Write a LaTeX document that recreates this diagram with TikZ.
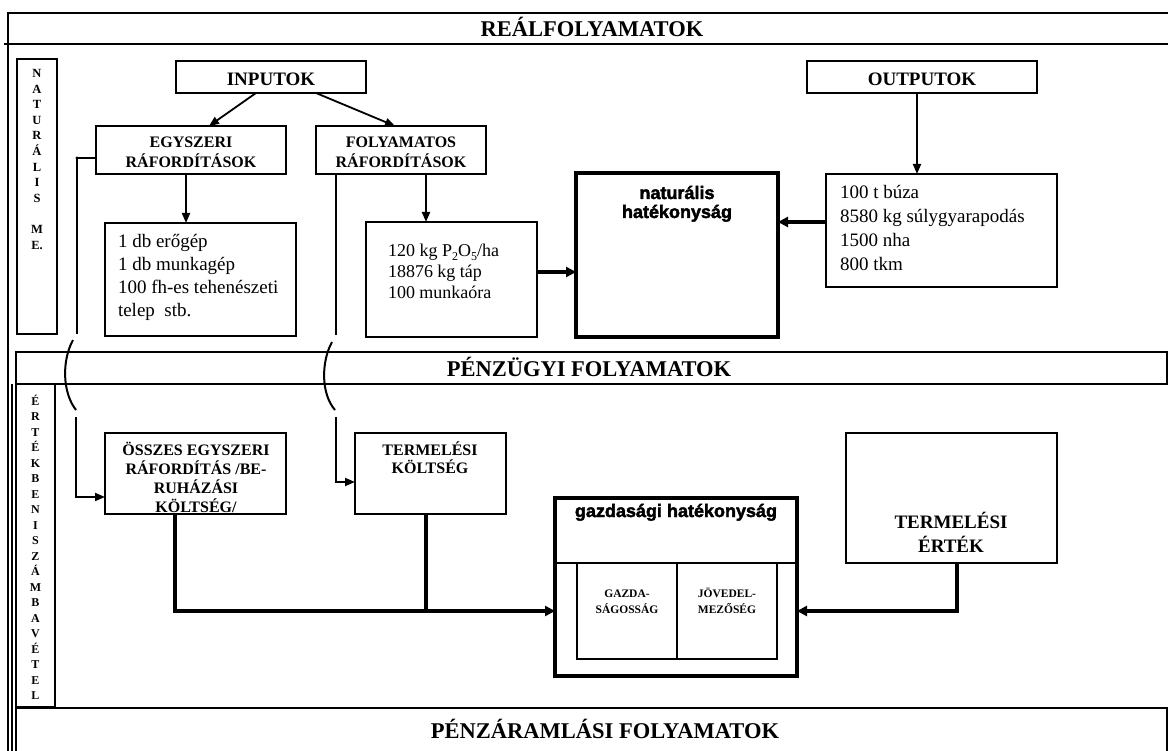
\documentclass[tikz,border=0pt]{standalone}
\usepackage{fontspec}
\setmainfont{Liberation Serif}
\newfontfamily\heavyfont{Liberation Sans}
\usetikzlibrary{arrows.meta,calc,fit}
\newcommand\fs[2]{\fontsize{#1}{#2}\selectfont}
\newcommand\lead{\rule{0pt}{1em}}
\newcommand\sub[1]{\raisebox{-4pt}{\fs{12}{12}#1}}
\newcommand\heavy{\heavyfont\bfseries\addfontfeatures{FakeBold=2.5}}

\tikzset{
  frameline/.style={line width=1.5pt},
  box/.style={draw, line width=1.3pt, inner sep=0pt, outer sep=0pt},
  heavybox/.style={draw, line width=3.6pt, inner sep=0pt, outer sep=0pt},
  txt/.style={inner sep=0pt, outer sep=0pt},
  title/.style={txt, anchor=base, font=\fs{22.5}{27}\bfseries},
  head/.style={txt, anchor=north, align=center},
  data/.style={txt, anchor=north west, align=left},
  conn/.style={line width=1.8pt, -{Triangle[length=10pt,width=8pt]}},
  wire/.style={line width=2pt},
  bigconn/.style={line width=3.4pt, -{Triangle[length=10pt,width=10pt]}},
  bigwire/.style={line width=3.4pt}
}

\begin{document}
\begin{tikzpicture}[x=1pt,y=-1pt]
\useasboundingbox (0,0) rectangle (1168,751);

% outer frame and section bands
\draw[frameline] (8,751) -- (8,13) -- (1168,13);
\draw[frameline] (4,44) -- (1168,44);
\draw[frameline] (12,384) -- (12,751);
\node[box, fit={(16,352) (1167,384)}] (band2) {};
\node[box, fit={(16,384) (55,707)}] (col2) {};
\draw[frameline] (16,751) -- (16,708) -- (1167,708) -- (1167,751);

\node[title] (t1) at (592,37) {REÁLFOLYAMATOK};
\node[title] (t2) at (589,377) {PÉNZÜGYI FOLYAMATOK};
\node[title] (t3) at (605,738) {PÉNZÁRAMLÁSI FOLYAMATOK};

% vertical side labels
\node[box, fit={(17,59) (57,334)}] (col1) {};
\node[head, font=\fs{12.5}{15.6}\bfseries] (col1t) at (37,65)
  {\lead N\\A\\T\\U\\R\\Á\\L\\I\\S\\ \\M\\E.};
\node[head, font=\fs{12}{15.5}\bfseries] (col2t) at (35.5,393)
  {\lead É\\R\\T\\É\\K\\B\\E\\N\\I\\S\\Z\\Á\\M\\B\\A\\V\\É\\T\\E\\L};

% real processes
\node[box, fit={(176,61) (366,93)}] (inp) {};
\node[txt, anchor=base, font=\fs{19}{23}\bfseries] (inpt) at (271,86) {INPUTOK};
\node[box, fit={(807,61) (1037,93)}] (out) {};
\node[txt, anchor=base, font=\fs{19}{23}\bfseries] (outt) at (922,86) {OUTPUTOK};

\node[box, fit={(96,126) (286,174)}] (egy) {};
\node[head, font=\fs{16}{20}\bfseries] (egyt) at (191,132) {\lead EGYSZERI\\RÁFORDÍTÁSOK};
\node[box, fit={(316,126) (486,174)}] (fol) {};
\node[head, font=\fs{16}{20}\bfseries] (folt) at (401,132) {\lead FOLYAMATOS\\RÁFORDÍTÁSOK};

\node[box, fit={(105,223) (296,336)}] (db) {};
\node[data, font=\fs{19}{22.9}] (dbt) at (118,229)
  {\lead 1 db erőgép\\1 db munkagép\\100 fh-es tehenészeti\\telep\ \ stb.};
\node[box, fit={(366,222) (537,337)}] (kg) {};
\node[data, font=\fs{18}{21}] (kgt) at (388,239)
  {\lead 120 kg P\sub{2}O\sub{5}/ha\\18876 kg táp\\100 munkaóra};
\node[box, fit={(826,174) (1057,287)}] (res) {};
\node[data, font=\fs{19}{23.7}] (rest) at (840,180)
  {\lead 100 t búza\\8580 kg súlygyarapodás\\1500 nha\\800 tkm};

\node[heavybox, fit={(576,173) (778,337)}] (nat) {};
\node[head, font=\fs{18}{19}\heavy] (natt) at (677,181)
  {\lead naturális\\hatékonyság};

\draw[conn] ($(inp.south west)+(80,0)$) -- ($(egy.north west)+(113,0)$);
\draw[conn] ($(inp.south west)+(140,0)$) -- ($(fol.north west)+(79,0)$);
\draw[conn] ($(egy.south west)+(90,0)$) -- ($(db.north west)+(81,0)$);
\draw[conn] ($(fol.south west)+(110,0)$) -- ($(kg.north west)+(60,0)$);
\draw[conn] ($(out.south west)+(110,0)$) -- ($(res.north west)+(91,0)$);
\draw[bigconn] ($(kg.north east)+(0,50)$) coordinate (k1) -- (k1 -| nat.west);
\draw[bigconn] ($(res.north west)+(0,48)$) coordinate (r1) -- (r1 -| nat.east);

% financial processes
\node[box, fit={(105,433) (286,514)}] (osz) {};
\node[head, font=\fs{16}{19.3}\bfseries] (oszt) at (196,439)
  {\lead ÖSSZES EGYSZERI\\RÁFORDÍTÁS /BE-\\RUHÁZÁSI\\KÖLTSÉG/};
\node[box, fit={(355,433) (506,514)}] (tk) {};
\node[head, font=\fs{16}{18.5}\bfseries] (tkt) at (430,439)
  {\lead TERMELÉSI\\KÖLTSÉG};
\node[box, fit={(846,433) (1057,563)}] (ert) {};
\node[head, font=\fs{19}{24}\bfseries] (ertt) at (951,509)
  {\lead TERMELÉSI\\ÉRTÉK};

\node[heavybox, fit={(555,498) (797,676)}] (gaz) {};
\node[txt, anchor=base, font=\fs{18}{19}\heavy] (gazt) at (676,517)
  {gazdasági hatékonyság};
\draw[line width=1.3pt] ($(gaz.north west)+(0,65)$) -- ($(gaz.north east)+(0,65)$);
\node[box, fit={(577,563) (677,659)}] (gs) {};
\node[box, fit={(677,563) (777,659)}] (jm) {};
\node[head, font=\fs{11.5}{16}\bfseries] (gst) at (627,585.5) {\lead GAZDA-\\SÁGOSSÁG};
\node[head, font=\fs{11.5}{16}\bfseries] (jmt) at (727,585.5) {\lead JÖVEDEL-\\MEZŐSÉG};

% links from the real side, broken across the band
\coordinate (e1) at (77,334);
\coordinate (e2) at (76,417);
\draw[wire] ($(egy.north west)+(0,32)$) -| (e1);
\fill ($(egy.north west)+(-19,32)$) circle (1.6pt);
\draw[wire] (73,340) .. controls (62,360) and (62,392) .. (76,410);
\draw[conn] (e2) |- ($(osz.north west)+(0,64)$);

\coordinate (f1) at (336,335);
\coordinate (f2) at (336,417);
\draw[wire] ($(fol.south west)+(20,0)$) -- (f1);
\draw[wire] (332,342) .. controls (321,362) and (321,394) .. (335,410);
\draw[conn] (f2) |- ($(tk.north west)+(0,49)$);

% cost and value into economic efficiency
\draw[bigconn] ($(osz.south west)+(70,0)$) |- ($(gaz.north west)+(0,113)$);
\draw[bigwire] ($(tk.south west)+(71,0)$) -- ($(tk.south west)+(71,97)$);
\draw[bigconn] ($(ert.south west)+(111,0)$) |- ($(gaz.north east)+(0,113)$);
\end{tikzpicture}
\end{document}
